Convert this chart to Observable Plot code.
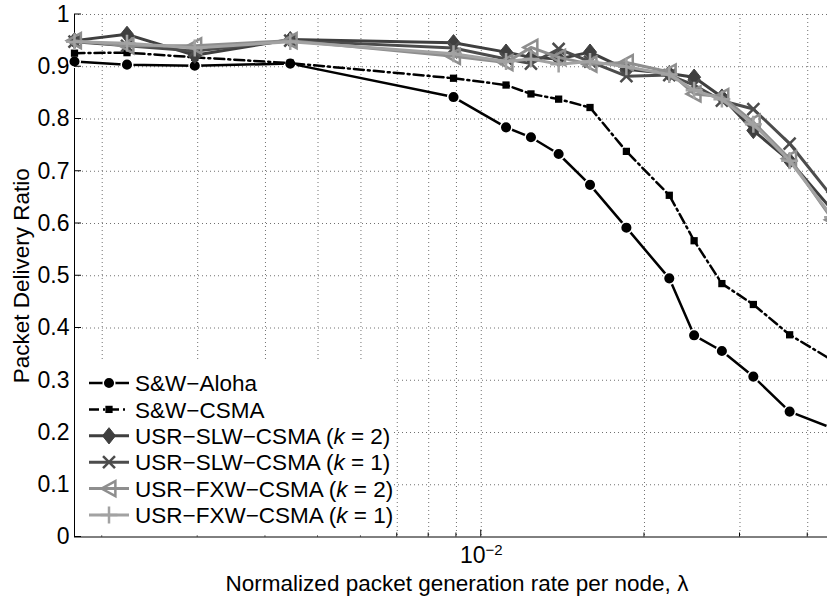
<!DOCTYPE html>
<html>
<head>
<meta charset="utf-8">
<script src="https://cdn.jsdelivr.net/npm/d3@7"></script>
<script src="https://cdn.jsdelivr.net/npm/@observablehq/plot@0.6"></script>
<style>
html,body{margin:0;padding:0;overflow:hidden;background:#fff;}
#chart{width:827px;height:600px;}
</style>
</head>
<body>
<div id="chart"></div>
<script>
// ---- data ----
const lambda = [0.001778, 0.002222, 0.002963, 0.004444, 0.008889, 0.01111, 0.01235, 0.01389,
                0.01587, 0.01852, 0.02222, 0.02469, 0.02778, 0.03175, 0.03704, 0.04444];
const alohaPDR = [0.910, 0.904, 0.902, 0.906, 0.842, 0.784, 0.765, 0.733, 0.674, 0.592, 0.495, 0.386, 0.356, 0.307, 0.240, 0.208];
const csmaPDR  = [0.926, 0.927, 0.918, 0.907, 0.878, 0.865, 0.848, 0.838, 0.822, 0.738, 0.654, 0.567, 0.485, 0.445, 0.387, 0.338];
const slwK2PDR = [0.950, 0.962, 0.922, 0.952, 0.946, 0.928, 0.918, 0.915, 0.928, 0.895, 0.887, 0.880, 0.842, 0.778, 0.720, 0.625];
const slwK1PDR = [0.948, 0.940, 0.930, 0.950, 0.936, 0.915, 0.906, 0.934, 0.910, 0.882, 0.884, 0.865, 0.835, 0.819, 0.753, 0.650];
const fxwK2PDR = [0.950, 0.940, 0.940, 0.950, 0.920, 0.908, 0.937, 0.918, 0.905, 0.908, 0.890, 0.848, 0.843, 0.794, 0.724, 0.607];
const fxwK1PDR = [0.948, 0.945, 0.936, 0.948, 0.925, 0.910, 0.915, 0.905, 0.910, 0.900, 0.885, 0.855, 0.838, 0.790, 0.720, 0.612];

const seriesNames = ["S&W\u2212Aloha", "S&W\u2212CSMA", "USR\u2212SLW\u2212CSMA", "USR\u2212SLW\u2212CSMA", "USR\u2212FXW\u2212CSMA", "USR\u2212FXW\u2212CSMA"];
const seriesK = [null, null, "2", "1", "2", "1"];
const seriesValues = [alohaPDR, csmaPDR, slwK2PDR, slwK1PDR, fxwK2PDR, fxwK1PDR];

const xDomain = [0.001778, 0.0435];
const yDomain = [0, 1];
const yTicks = [0, 0.1, 0.2, 0.3, 0.4, 0.5, 0.6, 0.7, 0.8, 0.9, 1];
const yTickLabels = ["0", "0.1", "0.2", "0.3", "0.4", "0.5", "0.6", "0.7", "0.8", "0.9", "1"];
const xGrid = [0.002, 0.003, 0.004, 0.005, 0.006, 0.007, 0.008, 0.009, 0.01, 0.02, 0.03, 0.04];
const xMajorTicks = [0.01];
const xTickBase = "10";
const xTickExp = "\u22122";
const xLabel = "Normalized packet generation rate per node, \u03bb";
const yLabel = "Packet Delivery Ratio";

// ---- styles ----
const symDiamond = {draw(ctx, size) { const r = Math.sqrt(size / Math.PI);
  ctx.moveTo(0, -r * 1.25); ctx.lineTo(r, 0); ctx.lineTo(0, r * 1.25); ctx.lineTo(-r, 0); ctx.closePath(); }};
const symLeftTri = {draw(ctx, size) { const r = Math.sqrt(size / Math.PI);
  ctx.moveTo(-r, 0); ctx.lineTo(r * 0.85, -r); ctx.lineTo(r * 0.85, r); ctx.closePath(); }};

const styles = [
  {color: "#000", width: 2.5, dash: null, sym: d3.symbolCircle, r: 5.8, fill: "#000", ms: "#fff", mw: 1.5},
  {color: "#000", width: 2.5, dash: "10,4,2,4", sym: d3.symbolSquare, r: 4.1, fill: "#000", ms: "none", mw: 0},
  {color: "#3f3f3f", width: 3, dash: null, sym: symDiamond, r: 6.5, fill: "#3f3f3f", ms: "#3f3f3f", mw: 1},
  {color: "#4c4c4c", width: 3, dash: null, sym: d3.symbolTimes, r: 5.5, fill: "none", ms: "#4c4c4c", mw: 2.5},
  {color: "#8e8e8e", width: 3, dash: null, sym: symLeftTri, r: 7.5, fill: "none", ms: "#8e8e8e", mw: 2.5},
  {color: "#a2a2a2", width: 3, dash: null, sym: d3.symbolPlus, r: 5.5, fill: "none", ms: "#a2a2a2", mw: 2.5}
];

const FONT = "'Liberation Sans', Arial, Helvetica, sans-serif";
const gridStyle = {stroke: "#707070", strokeWidth: 1, strokeDasharray: "1,3"};

const seriesMarks = seriesValues.flatMap((vals, si) => {
  const s = styles[si];
  const rows = lambda.map((x, i) => ({x, y: vals[i]}));
  return [
    Plot.line(rows, {x: "x", y: "y", stroke: s.color, strokeWidth: s.width, strokeDasharray: s.dash || undefined, strokeLinejoin: "round"}),
    Plot.dot(rows, {x: "x", y: "y", symbol: s.sym, r: s.r, fill: s.fill, stroke: s.ms, strokeWidth: s.mw})
  ];
});

const plot = Plot.plot({
  width: 827, height: 600,
  marginLeft: 74, marginRight: 0, marginTop: 14, marginBottom: 63.5,
  x: {type: "log", domain: xDomain},
  y: {domain: yDomain},
  style: {fontFamily: FONT, fontSize: "22.5px", color: "#000", background: "#fff"},
  marks: [
    Plot.ruleY(yTicks.filter(d => d > 0), gridStyle),
    Plot.ruleX(xGrid, gridStyle),
    Plot.ruleX([xDomain[0]], {stroke: "#000", strokeWidth: 1}),
    Plot.ruleY([yDomain[0]], {stroke: "#000", strokeWidth: 1}),
    Plot.axisY(yTicks, {tickSize: 0, tickPadding: 5, fontSize: 23, tickFormat: d => yTickLabels[yTicks.indexOf(d)], label: null}),
    Plot.axisX(xMajorTicks, {tickSize: 0, tickPadding: 10, fontSize: 23, tickFormat: () => xTickBase, label: null}),
    Plot.text([xLabel], {frameAnchor: "bottom", textAnchor: "middle", lineAnchor: "middle", dx: 6, dy: 47, text: d => d}),
    Plot.text([yLabel], {frameAnchor: "left", textAnchor: "middle", lineAnchor: "middle", rotate: -90, dx: -53, text: d => d}),
    ...seriesMarks
  ]
});

document.getElementById("chart").appendChild(plot);

// ---- post-processing: superscript, inward ticks, legend ----
const svg = d3.select(plot);
const sx = plot.scale("x"), sy = plot.scale("y");

svg.selectAll('g[aria-label="x-axis tick label"] text').each(function() {
  d3.select(this).append("tspan").attr("dy", "-0.55em").attr("font-size", "15px").text(xTickExp);
});

const x0 = sx.apply(xDomain[0]), y0 = sy.apply(yDomain[0]);
const tg = svg.append("g").attr("stroke", "#000").attr("stroke-width", 1);
yTicks.forEach(v => tg.append("line").attr("x1", x0).attr("x2", x0 + 7).attr("y1", sy.apply(v)).attr("y2", sy.apply(v)));
xGrid.forEach(v => {
  const len = xMajorTicks.includes(v) ? 7 : 4;
  tg.append("line").attr("x1", sx.apply(v)).attr("x2", sx.apply(v)).attr("y1", y0).attr("y2", y0 - len);
});

// legend (inside the axes, lower-left, white box without border)
const lg = svg.append("g").attr("text-anchor", "start").attr("font-family", FONT).attr("font-size", "22.5px");
lg.append("rect").attr("x", x0 + 1).attr("y", 362).attr("width", 318).attr("height", y0 - 362 - 1).attr("fill", "#fff");
seriesNames.forEach((name, i) => {
  const s = styles[i];
  const cy = 383 + i * 26.4;
  lg.append("line").attr("x1", 89).attr("x2", 129).attr("y1", cy).attr("y2", cy)
    .attr("stroke", s.color).attr("stroke-width", s.width).attr("stroke-dasharray", s.dash || null);
  lg.append("path").attr("transform", `translate(109,${cy})`)
    .attr("d", d3.symbol(s.sym, Math.PI * s.r * s.r)())
    .attr("fill", s.fill).attr("stroke", s.ms).attr("stroke-width", s.mw);
  const t = lg.append("text").attr("x", 135).attr("y", cy).attr("dy", "0.36em").attr("fill", "#000");
  t.append("tspan").text(name);
  if (seriesK[i] !== null) {
    t.append("tspan").text(" (");
    t.append("tspan").attr("font-style", "italic").text("k");
    t.append("tspan").text(" = " + seriesK[i] + ")");
  }
});
</script>
</body>
</html>
